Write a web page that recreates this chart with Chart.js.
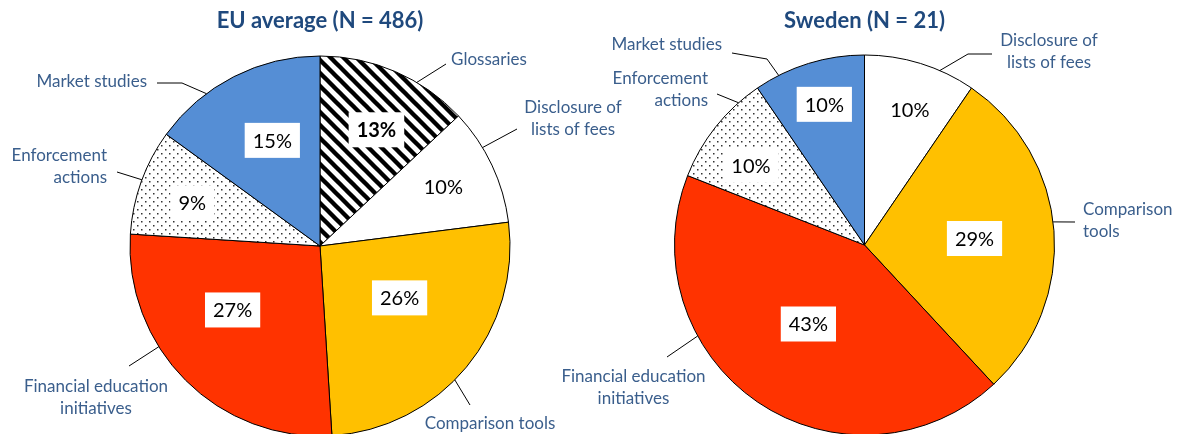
<!DOCTYPE html>
<html>
<head>
<meta charset="utf-8">
<script src="https://cdn.jsdelivr.net/npm/chart.js@4/dist/chart.umd.min.js"></script>
<style>
  html, body { margin:0; padding:0; background:#fff; width:1180px; height:434px; overflow:hidden; }
  .wrap { position:absolute; top:0; left:0; width:1180px; height:500px; }
</style>
</head>
<body>
<div class="wrap"><canvas id="eu" width="1180" height="500"></canvas></div>
<div class="wrap"><canvas id="se" width="1180" height="500"></canvas></div>
<script>
// ---------- DATA ----------
const categories = ["Glossaries", "Disclosure of lists of fees", "Comparison tools",
                    "Financial education initiatives", "Enforcement actions", "Market studies"];
const euTitle = "EU average (N = 486)";
const euShares = [13, 10, 26, 27, 9, 15];        // percent
const seTitle = "Sweden (N = 21)";
const seCounts = [0, 2, 6, 9, 2, 2];             // respondents out of 21

// ---------- STYLE / LAYOUT ----------
const LABEL_COLOR = '#3A5E8C';
const TITLE_COLOR = '#1F497D';
const LABEL_FONT = '17px Lato';
const PCT_FONT = '20px Lato';

function stripePattern() {
  const s = 13, c = document.createElement('canvas');
  c.width = s; c.height = s;
  const g = c.getContext('2d');
  g.fillStyle = '#fff'; g.fillRect(0, 0, s, s);
  g.strokeStyle = '#000'; g.lineWidth = 4.4;
  for (let k = -1; k <= 1; k++) {
    g.beginPath(); g.moveTo(k * s - 2, -2); g.lineTo(k * s + s + 2, s + 2); g.stroke();
  }
  return g.createPattern(c, 'repeat');
}
function dotPattern() {
  const s = 8, c = document.createElement('canvas');
  c.width = s; c.height = s;
  const g = c.getContext('2d');
  g.fillStyle = '#fff'; g.fillRect(0, 0, s, s);
  g.fillStyle = '#333';
  g.fillRect(1, 1, 1.5, 1.5);
  g.fillRect(5, 5, 1.5, 1.5);
  return g.createPattern(c, 'repeat');
}
const sliceColors = [stripePattern(), '#FFFFFF', '#FFC000', '#FF3300', dotPattern(), '#558ED5'];

// label layout (relative to pie centre, pixels / degrees)
const euInner = [
  {dAng: 2.5, r: 0.68, bold: true}, {dAng: -0.4, r: 0.72}, {dAng: -6.5, r: 0.5},
  {dAng: 8.8, r: 0.57}, {dAng: -1.1, r: 0.71}, {dAng: 2.7, r: 0.61}];
const euOuter = [
  {dAng: 7.2, leader: [[126, -182]], tx: 169, ty: -186, align: 'center', br: 0},
  {dAng: -6, leader: [[197, -117]], tx: 253, ty: -138, align: 'center', br: 2},
  {dAng: 5.2, leader: [[150, 159]], tx: 170, ty: 178, align: 'center', br: 0},
  {dAng: 13, leader: [[-191, 120]], tx: -224, ty: 141, align: 'center', br: 2},
  {dAng: 0.6, leader: [[-203, -74]], tx: -213, ty: -90, align: 'right', br: 1},
  {dAng: -9.7, leader: [[-138, -163], [-163, -163]], tx: -173, ty: -164, align: 'right', br: 0}];
const seInner = [
  {dAng: 0, r: 0}, {dAng: 1.4, r: 0.75}, {dAng: 0.9, r: 0.58},
  {dAng: 1.1, r: 0.51}, {dAng: -3.5, r: 0.73}, {dAng: 1.2, r: 0.77}];
const seOuter = [
  null,
  {dAng: 6.2, leader: [[103.5, -191], [127.5, -191]], tx: 184.5, ty: -204, align: 'center', br: 2},
  {dAng: -2.7, leader: [[210.5, -23]], tx: 218.5, ty: -35, align: 'left', br: 1},
  {dAng: 27.1, leader: [[-197.5, 112]], tx: -231, ty: 132, align: 'center', br: 2},
  {dAng: 9.9, leader: [[-147.5, -151]], tx: -156.5, ty: -166, align: 'right', br: 1},
  {dAng: -9.7, leader: [[-97.5, -186], [-132.5, -192]], tx: -142.5, ty: -200, align: 'right', br: 0}];

const labelPlugin = {
  id: 'pieLabels',
  afterDatasetsDraw(chart, args, opts) {
    const ctx = chart.ctx;
    const meta = chart.getDatasetMeta(0);
    const data = chart.data.datasets[0].data;
    const total = data.reduce((a, b) => a + b, 0);
    const labels = chart.data.labels;
    ctx.save();
    meta.data.forEach((arc, i) => {
      const v = data[i];
      if (!v) return;
      const p = arc.getProps(['x', 'y', 'startAngle', 'endAngle', 'outerRadius'], true);
      const mid = (p.startAngle + p.endAngle) / 2;
      // outer label + leader
      const ol = opts.outer[i];
      if (ol) {
        const sa = mid + ol.dAng * Math.PI / 180;
        ctx.strokeStyle = '#000'; ctx.lineWidth = 1;
        ctx.beginPath();
        ctx.moveTo(p.x + Math.cos(sa) * p.outerRadius, p.y + Math.sin(sa) * p.outerRadius);
        ol.leader.forEach(q => ctx.lineTo(p.x + q[0], p.y + q[1]));
        ctx.stroke();
        const words = labels[i].split(' ');
        const lines = ol.br ? [words.slice(0, ol.br).join(' '), words.slice(ol.br).join(' ')] : [labels[i]];
        ctx.font = LABEL_FONT; ctx.fillStyle = LABEL_COLOR;
        ctx.textAlign = ol.align; ctx.textBaseline = 'middle';
        lines.forEach((ln, k) => ctx.fillText(ln, p.x + ol.tx, p.y + ol.ty + k * 22));
      }
      // inner percentage label
      const il = opts.inner[i];
      const a = mid + il.dAng * Math.PI / 180;
      const px = p.x + Math.cos(a) * p.outerRadius * il.r;
      const py = p.y + Math.sin(a) * p.outerRadius * il.r;
      const txt = Math.round(v / total * 100) + '%';
      ctx.font = (il.bold ? 'bold ' : '') + PCT_FONT;
      const w = ctx.measureText(txt).width;
      ctx.fillStyle = '#fff';
      ctx.fillRect(px - w / 2 - 8, py - 17.5, w + 16, 35);
      ctx.fillStyle = '#000'; ctx.textAlign = 'center'; ctx.textBaseline = 'middle';
      ctx.fillText(txt, px, py + 1);
    });
    ctx.restore();
  }
};

function makePie(id, title, values, inner, outer, pad) {
  return new Chart(document.getElementById(id), {
    type: 'pie',
    data: {
      labels: categories,
      datasets: [{
        data: values,
        backgroundColor: sliceColors,
        borderColor: '#000',
        borderWidth: 1
      }]
    },
    options: {
      responsive: false,
      animation: false,
      devicePixelRatio: 1,
      events: [],
      radius: 190,
      layout: { padding: pad },
      plugins: {
        legend: { display: false },
        tooltip: { enabled: false },
        title: {
          display: true, text: title, color: TITLE_COLOR,
          font: { family: 'Lato', size: 22, weight: 'bold', lineHeight: 1.2 },
          padding: { top: 8, bottom: 0 }
        },
        pieLabels: { inner: inner, outer: outer }
      }
    },
    plugins: [labelPlugin]
  });
}

// pie centres at x = 320 and x = 864.5 on the page
makePie('eu', euTitle, euShares, euInner, euOuter, { left: 0, right: 540, top: 0, bottom: 42.4 });
makePie('se', seTitle, seCounts, seInner, seOuter, { left: 549, right: 0, top: 0, bottom: 44.4 });
</script>
</body>
</html>
